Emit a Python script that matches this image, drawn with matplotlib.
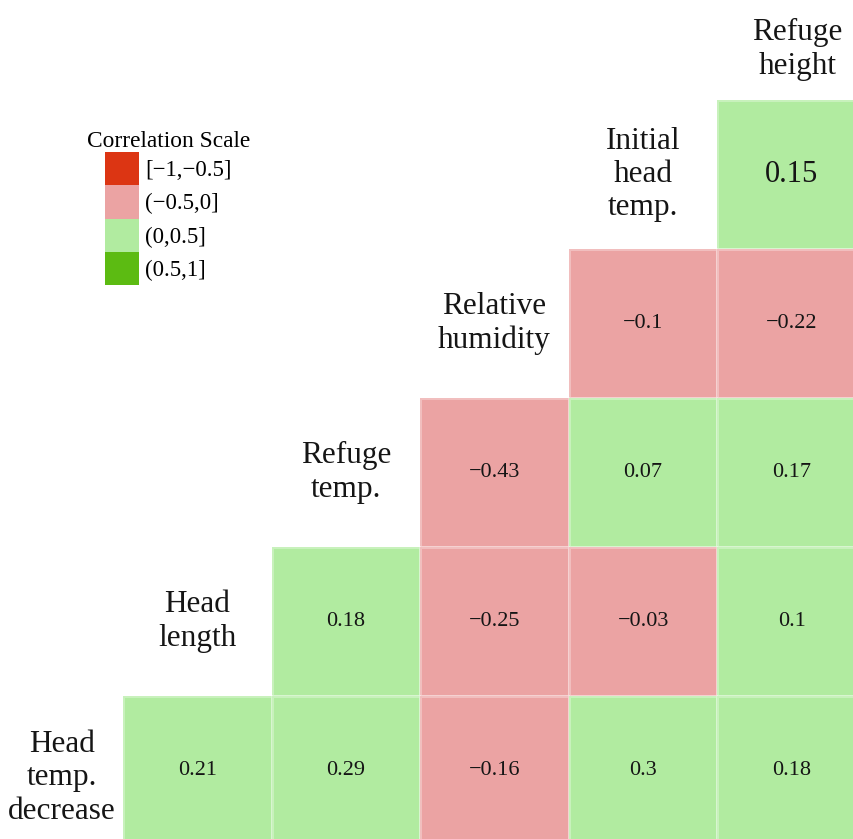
import numpy as np
import matplotlib.pyplot as plt
from matplotlib.colors import ListedColormap, BoundaryNorm
from matplotlib.patches import Patch

plt.rcParams['font.family'] = ['Liberation Serif', 'DejaVu Serif']

# variables along the diagonal, top to bottom
row_names = ["Initial\nhead\ntemp.", "Relative\nhumidity", "Refuge\ntemp.", "Head\nlength", "Head\ntemp.\ndecrease"]
col_top_name = "Refuge\nheight"

# lower-triangle correlations (rows top->bottom, columns left->right)
nan = np.nan
corr_initial_head = [nan, nan, nan, nan, 0.15]
corr_humidity = [nan, nan, nan, -0.1, -0.22]
corr_refuge_temp = [nan, nan, -0.43, 0.07, 0.17]
corr_head_length = [nan, 0.18, -0.25, -0.03, 0.1]
corr_head_decrease = [0.21, 0.29, -0.16, 0.3, 0.18]

scale_bins = [-1, -0.5, 0, 0.5, 1]
scale_labels = ["[\u22121,\u22120.5]", "(\u22120.5,0]", "(0,0.5]", "(0.5,1]"]
scale_colors = ['#dc3513', '#eba3a3', '#b1eba0', '#5cbb12']

corr = np.ma.masked_invalid(np.array([corr_initial_head, corr_humidity, corr_refuge_temp,
                                      corr_head_length, corr_head_decrease]))
cmap = ListedColormap(scale_colors)
norm = BoundaryNorm(scale_bins, cmap.N)

fig = plt.figure(figsize=(8.54, 8.39), dpi=100)
ax = fig.add_axes([123 / 854, -6 / 839, 743 / 854, 745 / 839])
ax.pcolormesh(np.arange(6), np.arange(6), corr, cmap=cmap, norm=norm,
              edgecolors=(1, 1, 1, 0.3), linewidth=0.8)
ax.set_xlim(0, 5)
ax.set_ylim(5, 0)
ax.axis('off')

def fmt(v):
    return ("%g" % v).replace('-', '\u2212')

n = corr.shape[0]
for i in range(n):
    for j in range(n):
        if corr.mask[i, j]:
            continue
        size = 22 if i == 0 else 16
        ax.text(j + 0.5, i + 0.5, fmt(corr[i, j]), ha='center', va='center',
                fontsize=size, color='#151515')

# variable names on the diagonal
for i, name in enumerate(row_names):
    cx = (n - 2 - i) + 0.5 if i < n - 1 else -0.41
    cy = i + 0.5 if i < n - 1 else 4.55
    ax.text(cx, cy, name, ha='center', va='center', fontsize=22.5,
            linespacing=1.2, color='#151515', clip_on=False)
ax.text(4.54, -0.34, col_top_name, ha='center', va='center', fontsize=22.5,
        linespacing=1.2, color='#151515', clip_on=False)

handles = [Patch(facecolor=c, edgecolor='none') for c in scale_colors]
leg = fig.legend(handles, scale_labels, title="Correlation Scale", loc='upper left',
                 bbox_to_anchor=(87 / 854, 1 - 131 / 839), frameon=False, fontsize=16.5,
                 title_fontsize=16.8, handlelength=1.45, handleheight=1.86,
                 handletextpad=0.3, labelspacing=0, borderpad=0, borderaxespad=0)

fig.savefig('out.png', dpi=100)
